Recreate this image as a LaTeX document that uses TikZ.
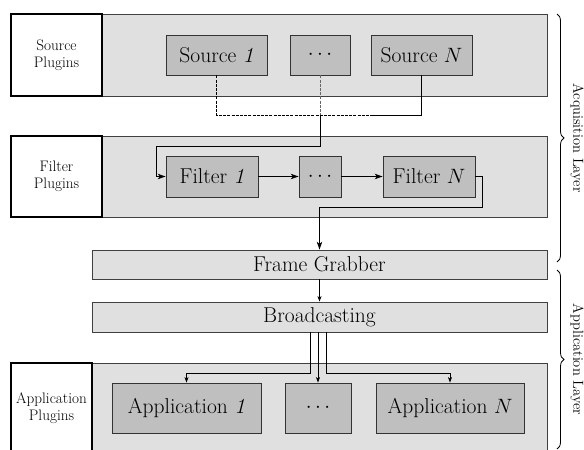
\documentclass[tikz,border=0pt]{standalone}
\usepackage{fontspec}
\usetikzlibrary{arrows.meta,decorations.pathreplacing}
\tikzset{
  band/.style={draw=black!75,line width=0.8pt,fill=black!12,inner sep=0pt},
  plug/.style={draw=black,line width=1.7pt,fill=white,inner sep=0pt,align=center,
    font=\fontsize{15.2}{17.5}\selectfont},
  plugtext/.style={inner sep=0pt,align=center,font=\fontsize{15.2}{17.5}\selectfont},
  unit/.style={draw=black!80,line width=0.8pt,fill=black!25,inner sep=0pt,
    font=\fontsize{21.5}{25}\selectfont},
  bar/.style={draw=black!75,line width=0.8pt,fill=black!12,inner sep=0pt,
    font=\fontsize{21.5}{25}\selectfont},
  conn/.style={line width=0.7pt,draw=black},
  big/.style={conn,-{Stealth[length=8pt,width=5.5pt,inset=2.5pt]}},
  small/.style={conn,-{Stealth[length=5.5pt,width=4pt,inset=1.5pt]}},
  dashconn/.style={conn,dash pattern=on 3pt off 1.2pt},
  layerbrace/.style={decorate,decoration={brace,amplitude=7pt},line width=0.8pt},
  layertext/.style={font=\fontsize{14.5}{17}\selectfont,rotate=-90}
}
\begin{document}
\begin{tikzpicture}[x=1pt,y=-1pt]
\clip (0,0) rectangle (584,450);
\useasboundingbox (0,0) rectangle (584,450);
% source layer
\node[band,minimum width=445pt,minimum height=82pt] (srcband) at (324.5,55) {};
\node[plug,minimum width=91pt,minimum height=82pt] (srcplug) at (56.5,55) {Source\\Plugins};
\node[unit,minimum width=101pt,minimum height=40pt] (s1) at (216.5,55) {Source \textit{1}};
\node[unit,minimum width=60pt,minimum height=40pt] (sd) at (320,55) {$\cdots$};
\node[unit,minimum width=101pt,minimum height=40pt] (sn) at (421.5,55) {Source $N$};
% filter layer
\node[band,minimum width=445pt,minimum height=81pt] (filband) at (324.5,176.5) {};
\node[plug,minimum width=91pt,minimum height=81pt] (filplug) at (56.5,176.5) {Filter\\Plugins};
\node[unit,minimum width=92pt,minimum height=41pt] (f1) at (212,176.5) {Filter \textit{1}};
\node[unit,minimum width=42pt,minimum height=41pt] (fd) at (320,176.5) {$\cdots$};
\node[unit,minimum width=92pt,minimum height=41pt] (fn) at (429,176.5) {Filter $N$};
% frame grabber, broadcasting
\node[bar,minimum width=455pt,minimum height=29pt] (fg) at (319.5,264.5) {Frame Grabber};
\node[bar,minimum width=455pt,minimum height=30pt] (bc) at (319.5,317) {Broadcasting};
% application layer
\node[band,minimum width=455pt,minimum height=107pt] (appband) at (319.5,416.5) {};
\node[plug,minimum width=81pt,minimum height=107pt] (appplug) at (51.5,416.5) {};
\node[plugtext] (appplugtxt) at (51.5,408) {Application\\Plugins};
\node[unit,minimum width=149pt,minimum height=50pt] (a1) at (186.5,408) {Application \textit{1}};
\node[unit,minimum width=66pt,minimum height=50pt] (ad) at (318,408) {$\cdots$};
\node[unit,minimum width=148pt,minimum height=50pt] (an) at (450,408) {Application $N$};
% source connections
\coordinate (jm) at (373,115);
\coordinate (j) at (320,115);
\coordinate (k) at (320,146);
\coordinate (kl) at (156,146);
\draw[dashconn] (s1.south) |- (jm);
\draw[dashconn,draw=black!60] (sd.south) -- (j);
\draw[conn] (sn.south) |- (jm);
\draw[big] (j) -- (k) -- (kl) |- (f1.west);
% filter chain
\draw[big] (f1.east) -- (fd.west);
\draw[big] (fd.east) -- (fn.west);
\coordinate (fr) at (482,207);
\draw[big] (fn.east) -| (fr) -| (fg.north);
\draw[small] (fg.south) -- (bc.north);
% broadcasting
\coordinate (b1) at (310,332);
\coordinate (b2) at (318,332);
\coordinate (b3) at (326,332);
\draw[small] (b1) |- (186.5,373) -- (a1.north);
\draw[small] (b2) -- (ad.north);
\draw[small] (b3) |- (450,373) -- (an.north);
% braces
\coordinate (bt1) at (557,14);
\coordinate (bb1) at (557,262);
\coordinate (bt2) at (557,270);
\coordinate (bb2) at (557,449);
\draw[layerbrace] (bt1) -- (bb1);
\draw[layerbrace] (bt2) -- (bb2);
\node[layertext] (acq) at (577,138) {Acquisition Layer};
\node[layertext] (app) at (577,359.5) {Application Layer};
\end{tikzpicture}
\end{document}
